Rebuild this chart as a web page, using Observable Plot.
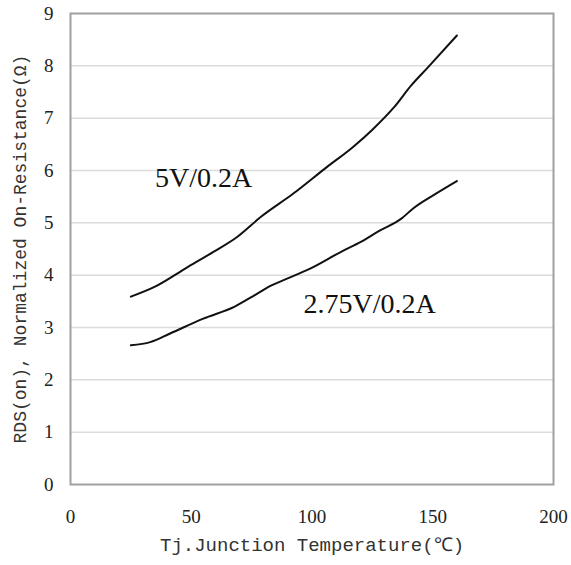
<!DOCTYPE html>
<html>
<head>
<meta charset="utf-8">
<script src="https://cdn.jsdelivr.net/npm/d3@7"></script>
<script src="https://cdn.jsdelivr.net/npm/@observablehq/plot@0.6"></script>
<style>
  html, body { margin: 0; padding: 0; background: #fff; }
</style>
</head>
<body>
<div id="chart"></div>
<script>
const temp5V = [25, 35, 48, 59, 69, 79, 92, 106, 117, 125, 134, 141, 148, 160];
const rds5V = [3.59, 3.78, 4.14, 4.44, 4.73, 5.12, 5.55, 6.06, 6.45, 6.78, 7.21, 7.62, 7.97, 8.58];
const temp275V = [25, 33, 41, 55, 68, 76, 83, 88, 99, 113, 120, 128, 137, 142, 151, 160];
const rds275V = [2.66, 2.72, 2.88, 3.17, 3.40, 3.61, 3.80, 3.90, 4.12, 4.47, 4.63, 4.85, 5.08, 5.28, 5.55, 5.80];
const xTicks = [0, 50, 100, 150, 200];
const yTicks = [0, 1, 2, 3, 4, 5, 6, 7, 8, 9];
const seriesLabels = [
  {name: "5V/0.2A", t: 35, v: 5.86},
  {name: "2.75V/0.2A", t: 96.5, v: 3.45}
];
const xTitle = "Tj.Junction Temperature(℃)";
const yTitle = "RDS(on), Normalized On-Resistance(Ω)";

const data5 = temp5V.map((t, i) => ({t, v: rds5V[i]}));
const data275 = temp275V.map((t, i) => ({t, v: rds275V[i]}));

const chart = Plot.plot({
  width: 571,
  height: 565,
  marginLeft: 70,
  marginRight: 18,
  marginTop: 13,
  marginBottom: 81,
  style: {fontFamily: "'Liberation Serif', 'Times New Roman', serif", fontSize: "18px", color: "#222", background: "#fff"},
  x: {domain: [0, 200]},
  y: {domain: [0, 9]},
  marks: [
    Plot.gridY(yTicks.filter(d => d > 0 && d < 9), {stroke: "#dcdcdc", strokeOpacity: 1, strokeWidth: 1.5}),
    Plot.frame({stroke: "#a0a0a0", strokeWidth: 2}),
    Plot.axisX(xTicks, {tickSize: 0, tickPadding: 25, label: null, fontSize: 19, tickFormat: d3.format("d")}),
    Plot.axisY(yTicks, {tickSize: 0, tickPadding: 17, label: null, fontSize: 19, tickFormat: d3.format("d")}),
    Plot.line(data5, {x: "t", y: "v", stroke: "#111", strokeWidth: 2, curve: "monotone-x"}),
    Plot.line(data275, {x: "t", y: "v", stroke: "#111", strokeWidth: 2, curve: "monotone-x"}),
    Plot.text(seriesLabels, {x: "t", y: "v", text: "name", textAnchor: "start", fontSize: 28, fill: "#111"}),
    Plot.text([xTitle], {frameAnchor: "bottom", dy: 66, text: d => d, textAnchor: "middle", fontFamily: "'Liberation Mono', monospace", fontSize: 19, fill: "#333"}),
    Plot.text([yTitle], {frameAnchor: "left", dx: -50, rotate: -90, text: d => d, textAnchor: "middle", fontFamily: "'Liberation Mono', monospace", fontSize: 18, fill: "#333"})
  ]
});
document.getElementById("chart").appendChild(chart);
</script>
</body>
</html>
